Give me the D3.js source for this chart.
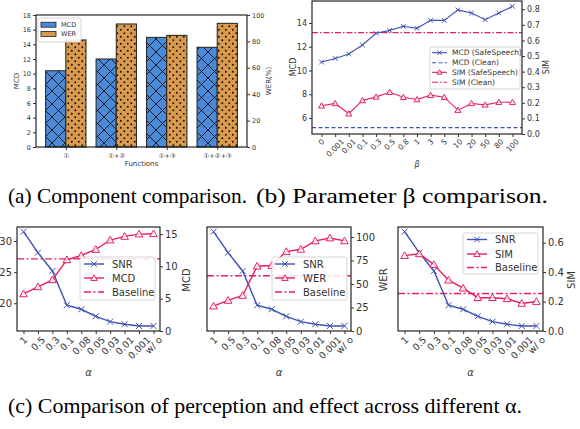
<!DOCTYPE html>
<html>
<head>
<meta charset="utf-8">
<script src="https://cdn.jsdelivr.net/npm/d3@7"></script>
<style>
  body { margin: 0; background: #fff; }
  svg { display: block; }
  text { font-family: "DejaVu Sans", "Noto Sans CJK SC", sans-serif; fill: #333; }
  .cap { font-family: "Liberation Serif", serif; fill: #000; }
</style>
</head>
<body>
<svg id="fig" width="580" height="429"></svg>
<script>
// (a) component comparison
var funcCats = ["①", "①+②", "①+③", "①+②+③"];
var funcMCD = [10.4, 12.0, 14.95, 13.6];
var funcWER = [81.1, 93.2, 84.6, 93.7];

// (b) beta sweep
var betaLabels = ["0", "0.001", "0.01", "0.1", "0.3", "0.5", "0.8", "1", "3", "5", "10", "20", "50", "80", "100"];
var betaMCD = [10.71, 11.02, 11.39, 12.15, 13.13, 13.38, 13.72, 13.55, 14.22, 14.22, 15.1, 14.84, 14.28, 14.84, 15.4];
var betaSIM = [0.181, 0.196, 0.13, 0.215, 0.238, 0.268, 0.236, 0.221, 0.249, 0.236, 0.153, 0.196, 0.187, 0.204, 0.204];
var cleanMCD = 5.2;
var cleanSIM = 0.65;

// (c) alpha sweep
var alphaLabels = ["1", "0.5", "0.3", "0.1", "0.08", "0.05", "0.03", "0.01", "0.001", "w/ o"];
var alphaSNR = [31.5, 28.13, 25.19, 19.68, 19.04, 17.91, 17.06, 16.63, 16.36, 16.36];
var alphaMCD = [5.74, 6.83, 7.92, 11.02, 11.69, 12.62, 14.07, 14.64, 15.0, 15.05];
var alphaWER = [26.5, 32.5, 37.8, 68.9, 69.6, 84.5, 86.9, 95.8, 98.9, 95.8];
var alphaSIM = [0.512, 0.524, 0.451, 0.345, 0.291, 0.226, 0.226, 0.219, 0.187, 0.2];
var baseMCD = 11.17, baseWER = 58.7, baseSIM = 0.255;

var BLUE = "#3f51b5", PINK = "#e91e63";
var svg = d3.select("#fig");

var defs = svg.append("defs");
var px = defs.append("pattern").attr("id", "xhatch").attr("patternUnits", "userSpaceOnUse")
  .attr("width", 13).attr("height", 13);
px.append("rect").attr("width", 13).attr("height", 13).attr("fill", "#4a8ad8");
px.append("path").attr("d", "M0,0L13,13M13,0L0,13M-1,12L1,14M12,-1L14,1")
  .attr("stroke", "#111").attr("stroke-width", 0.9);
var pd = defs.append("pattern").attr("id", "dots").attr("patternUnits", "userSpaceOnUse")
  .attr("width", 7).attr("height", 7);
pd.append("rect").attr("width", 7).attr("height", 7).attr("fill", "#d99a4e");
pd.append("circle").attr("cx", 1.8).attr("cy", 1.8).attr("r", 0.95).attr("fill", "#111");
pd.append("circle").attr("cx", 5.3).attr("cy", 5.3).attr("r", 0.95).attr("fill", "#111");

function styleAxis(g, fs) {
  g.selectAll(".domain").remove();
  g.selectAll(".tick line").attr("stroke", "#333");
  g.selectAll(".tick text").attr("fill", "#333").style("font-size", fs + "px");
}

function frame(x0, x1, y0, y1) {
  svg.append("rect").attr("x", x0).attr("y", y0).attr("width", x1 - x0).attr("height", y1 - y0)
    .attr("fill", "none").attr("stroke", "#111").attr("stroke-width", 1.1);
}

function rotTicks(x, labels, yBase, fs) {
  labels.forEach(function(l, i) {
    var t = svg.append("text").text(l).style("font-size", fs + "px")
      .attr("text-anchor", "middle").attr("dominant-baseline", "central");
    var w = t.node().getComputedTextLength();
    var half = (w + fs * 0.9) / Math.SQRT2 / 2;
    t.attr("transform", "translate(" + x(i) + "," + (yBase + half) + ") rotate(-45)");
  });
}

function marker(g, type, cx, cy, color, s) {
  if (type === "x") {
    g.append("path").attr("d", "M" + (cx - s) + "," + (cy - s) + "L" + (cx + s) + "," + (cy + s) +
      "M" + (cx + s) + "," + (cy - s) + "L" + (cx - s) + "," + (cy + s))
      .attr("stroke", color).attr("stroke-width", 1).attr("fill", "none");
  } else {
    var h = s * 1.15;
    g.append("path").attr("d", "M" + cx + "," + (cy - h) + "L" + (cx + h) + "," + (cy + h * 0.75) +
      "L" + (cx - h) + "," + (cy + h * 0.75) + "Z")
      .attr("stroke", color).attr("stroke-width", 1).attr("fill", "#fff").attr("fill-opacity", 0.75);
  }
}

function series(x, y, vals, color, type, lw, ms) {
  var g = svg.append("g");
  g.append("path").datum(vals)
    .attr("d", d3.line().x(function(d, i) { return x(i); }).y(function(d) { return y(d); }))
    .attr("fill", "none").attr("stroke", color).attr("stroke-width", lw);
  vals.forEach(function(v, i) { marker(g, type, x(i), y(v), color, ms); });
}

function hline(x0, x1, yv, color, dash, lw) {
  svg.append("line").attr("x1", x0).attr("x2", x1).attr("y1", yv).attr("y2", yv)
    .attr("stroke", color).attr("stroke-width", lw).attr("stroke-dasharray", dash);
}

function vlabel(txt, x, y, fs) {
  svg.append("text").text(txt).attr("transform", "translate(" + x + "," + y + ") rotate(-90)")
    .attr("text-anchor", "middle").attr("dominant-baseline", "central").style("font-size", fs + "px");
}

function legend(x0, y0, w, h, items, lineX, textX, fs, ms) {
  svg.append("rect").attr("x", x0).attr("y", y0).attr("width", w).attr("height", h).attr("rx", 2)
    .attr("fill", "#fff").attr("fill-opacity", 0.85).attr("stroke", "#ccc").attr("stroke-width", 0.8);
  items.forEach(function(it) {
    hline(lineX[0], lineX[1], it.y, it.color, it.dash, it.lw);
    if (it.marker) marker(svg, it.marker, (lineX[0] + lineX[1]) / 2, it.y, it.color, ms);
    svg.append("text").text(it.label).attr("x", textX).attr("y", it.y)
      .attr("dominant-baseline", "central").style("font-size", fs + "px");
  });
}

// ---------- (a) ----------
(function() {
  var L = 36, R = 247, T = 15, B = 147;
  var x = d3.scaleLinear().domain([-0.59, 3.59]).range([L, R]);
  var yl = d3.scaleLinear().domain([0, 18]).range([B, T]);
  var yr = d3.scaleLinear().domain([0, 100]).range([B, T]);
  var bw = x(0.4) - x(0);
  svg.selectAll(".barM").data(funcMCD).enter().append("rect")
    .attr("x", function(d, i) { return x(i - 0.4); }).attr("y", function(d) { return yl(d); })
    .attr("width", bw).attr("height", function(d) { return B - yl(d); })
    .attr("fill", "url(#xhatch)").attr("stroke", "#222").attr("stroke-width", 1);
  svg.selectAll(".barW").data(funcWER).enter().append("rect")
    .attr("x", function(d, i) { return x(i); }).attr("y", function(d) { return yr(d); })
    .attr("width", bw).attr("height", function(d) { return B - yr(d); })
    .attr("fill", "url(#dots)").attr("stroke", "#222").attr("stroke-width", 1);
  frame(L, R, T, B);
  styleAxis(svg.append("g").attr("transform", "translate(" + L + ",0)")
    .call(d3.axisLeft(yl).tickValues(d3.range(0, 19, 2)).tickSize(3).tickPadding(2)), 6.5);
  styleAxis(svg.append("g").attr("transform", "translate(" + R + ",0)")
    .call(d3.axisRight(yr).tickValues(d3.range(0, 101, 20)).tickSize(3).tickPadding(2)), 6.5);
  styleAxis(svg.append("g").attr("transform", "translate(0," + B + ")")
    .call(d3.axisBottom(x).tickValues([0, 1, 2, 3]).tickFormat(function(d) { return funcCats[d]; })
      .tickSize(3).tickPadding(3)), 6.5);
  svg.append("text").text("Functions").attr("x", (L + R) / 2).attr("y", 166)
    .attr("text-anchor", "middle").style("font-size", "7px");
  vlabel("MCD", 17, (T + B) / 2, 7);
  vlabel("WER(%)", 269, (T + B) / 2, 7);
  // legend
  svg.append("rect").attr("x", 38).attr("y", 18).attr("width", 43).attr("height", 24).attr("rx", 2)
    .attr("fill", "#fff").attr("fill-opacity", 0.9).attr("stroke", "#ccc").attr("stroke-width", 0.8);
  [["MCD", "#4a8ad8", 24.7], ["WER", "#d99a4e", 34]].forEach(function(e) {
    svg.append("rect").attr("x", 41).attr("y", e[2] - 2.5).attr("width", 15).attr("height", 5)
      .attr("fill", e[1]).attr("stroke", "#222").attr("stroke-width", 0.8);
    svg.append("text").text(e[0]).attr("x", 61).attr("y", e[2]).attr("dominant-baseline", "central")
      .style("font-size", "6.5px");
  });
})();

// ---------- (b) ----------
(function() {
  var L = 312, R = 522, T = 1, B = 134;
  var x = d3.scaleLinear().domain([-0.7, 14.7]).range([L, R]);
  var yl = d3.scaleLinear().domain([4.66, 15.85]).range([B, T]);
  var yr = d3.scaleLinear().domain([0, 0.853]).range([B, T]);
  hline(L, R, yl(cleanMCD), BLUE, "4,2.5", 1.1);
  hline(L, R, yr(cleanSIM), PINK, "6,2,1.5,2", 1.1);
  series(x, yl, betaMCD, BLUE, "x", 1.1, 2.3);
  series(x, yr, betaSIM, PINK, "t", 1.1, 2.6);
  frame(L, R, T, B);
  styleAxis(svg.append("g").attr("transform", "translate(" + L + ",0)")
    .call(d3.axisLeft(yl).tickValues([6, 8, 10, 12, 14]).tickSize(3).tickPadding(2)), 8);
  styleAxis(svg.append("g").attr("transform", "translate(" + R + ",0)")
    .call(d3.axisRight(yr).tickValues(d3.range(0, 0.81, 0.1)).tickFormat(d3.format(".1f")).tickSize(3).tickPadding(2)), 8);
  styleAxis(svg.append("g").attr("transform", "translate(0," + B + ")")
    .call(d3.axisBottom(x).tickValues(d3.range(15)).tickFormat("").tickSize(3)), 8);
  rotTicks(x, betaLabels, B + 4, 7.5);
  svg.append("text").text("β").attr("x", (L + R) / 2).attr("y", 167).attr("text-anchor", "middle")
    .style("font-size", "8px").style("font-style", "italic");
  vlabel("MCD", 293, 67, 8);
  vlabel("SIM", 546, 67, 8);
  legend(430, 47, 90, 42, [
    { label: "MCD (SafeSpeech)", color: BLUE, dash: null, lw: 1.1, marker: "x", y: 52.7 },
    { label: "MCD (Clean)", color: BLUE, dash: "4,2.5", lw: 1.1, y: 62.7 },
    { label: "SIM (SafeSpeech)", color: PINK, dash: null, lw: 1.1, marker: "t", y: 72.3 },
    { label: "SIM (Clean)", color: PINK, dash: "6,2,1.5,2", lw: 1.1, y: 82.3 }
  ], [432, 447], 452, 7.5, 2.2);
})();

// ---------- (c) ----------
function alphaPanel(L, R, vals, yDom, rTicks, rFmt, base, name, showLeft, leg, rlabX) {
  var T = 227, B = 331;
  var x = d3.scaleLinear().domain([-0.45, 9.45]).range([L, R]);
  var yl = d3.scaleLinear().domain([15.55, 32.25]).range([B, T]);
  var yr = d3.scaleLinear().domain(yDom).range([B, T]);
  hline(L, R, yr(base), PINK, "7,2.5,2,2.5", 1.4);
  series(x, yl, alphaSNR, BLUE, "x", 1.4, 3);
  series(x, yr, vals, PINK, "t", 1.4, 3.3);
  frame(L, R, T, B);
  if (showLeft) {
    styleAxis(svg.append("g").attr("transform", "translate(" + L + ",0)")
      .call(d3.axisLeft(yl).tickValues([20, 25, 30]).tickSize(3).tickPadding(2)), 10);
  }
  styleAxis(svg.append("g").attr("transform", "translate(" + R + ",0)")
    .call(d3.axisRight(yr).tickValues(rTicks).tickFormat(rFmt).tickSize(3).tickPadding(2)), 10);
  styleAxis(svg.append("g").attr("transform", "translate(0," + B + ")")
    .call(d3.axisBottom(x).tickValues(d3.range(10)).tickFormat("").tickSize(3)), 10);
  rotTicks(x, alphaLabels, B + 4, 9.5);
  svg.append("text").text("α").attr("x", (L + R) / 2).attr("y", 376).attr("text-anchor", "middle")
    .style("font-size", "10px").style("font-style", "italic");
  vlabel(name, rlabX, 280, 10);
  legend(leg.x, leg.y, 75, leg.h, [
    { label: "SNR", color: BLUE, dash: null, lw: 1.4, marker: "x", y: leg.rows[0] },
    { label: name, color: PINK, dash: null, lw: 1.4, marker: "t", y: leg.rows[1] },
    { label: "Baseline", color: PINK, dash: "7,2.5,2,2.5", lw: 1.4, y: leg.rows[2] }
  ], leg.line, leg.line[1] + 8, 10, 2.8);
}

alphaPanel(17, 160, alphaMCD, [0, 16.1], [0, 5, 10, 15], d3.format("d"), baseMCD, "MCD", true,
  { x: 80, y: 257, h: 43, rows: [264, 278, 292], line: [84, 104] }, 186);
alphaPanel(207, 351, alphaWER, [0, 110.6], [0, 25, 50, 75, 100], d3.format("d"), baseWER, "WER", false,
  { x: 272, y: 257, h: 43, rows: [264, 278, 292], line: [275, 295] }, 383);
alphaPanel(398, 543, alphaSIM, [0, 0.706], [0, 0.2, 0.4, 0.6], d3.format(".1f"), baseSIM, "SIM", false,
  { x: 463, y: 233, h: 41, rows: [239.5, 254, 267.5], line: [467, 487] }, 571);

// captions
svg.append("text").attr("class", "cap").text("(a) Component comparison.")
  .attr("x", 8).attr("y", 203).attr("textLength", 239).attr("lengthAdjust", "spacingAndGlyphs")
  .style("font-size", "22px");
svg.append("text").attr("class", "cap").text("(b) Parameter β comparison.")
  .attr("x", 256).attr("y", 203).attr("textLength", 292).attr("lengthAdjust", "spacingAndGlyphs")
  .style("font-size", "22px");
svg.append("text").attr("class", "cap").text("(c) Comparison of perception and effect across different α.")
  .attr("x", 8).attr("y", 413).attr("textLength", 514).attr("lengthAdjust", "spacingAndGlyphs")
  .style("font-size", "22px");
</script>
</body>
</html>
